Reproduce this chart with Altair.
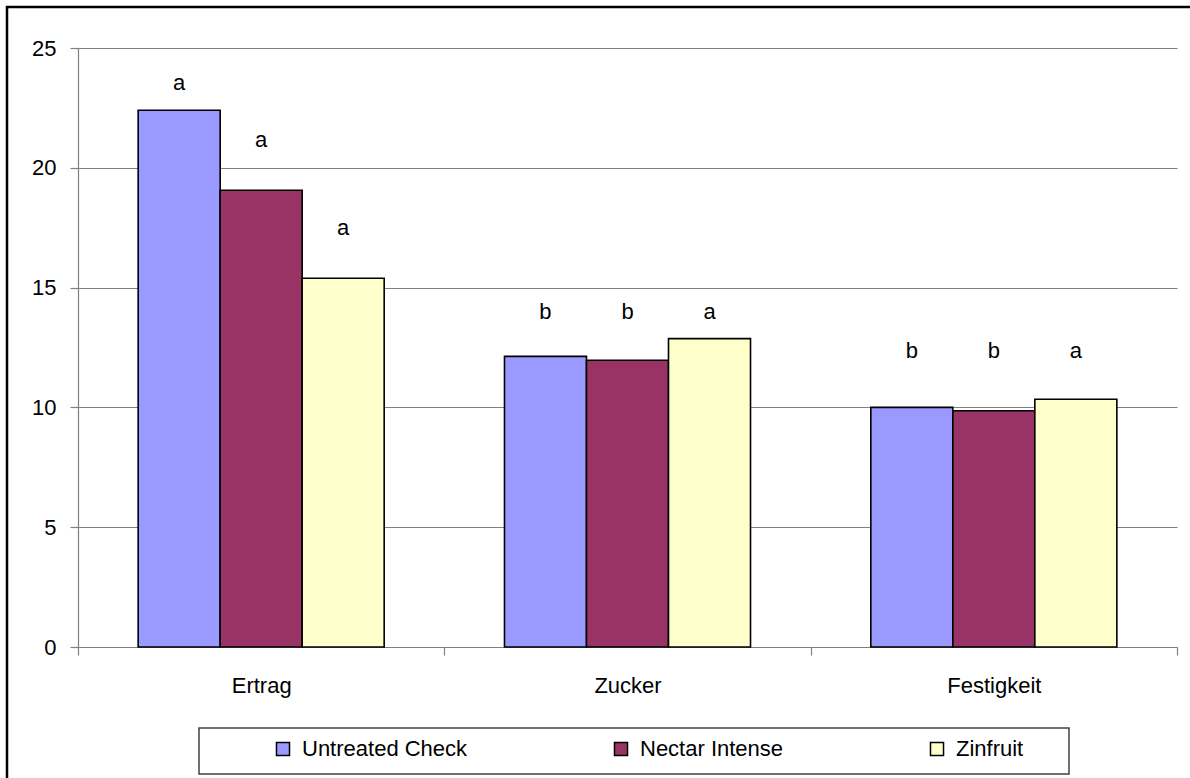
import altair as alt
import pandas as pd

# Measured quantities per treatment, one value per category
categories = ["Ertrag", "Zucker", "Festigkeit"]
treatments = ["Untreated Check", "Nectar Intense", "Zinfruit"]
colors = ["#9999FF", "#993366", "#FFFFCC"]

untreated = [22.4, 12.13, 10.0]
nectar = [19.06, 11.97, 9.86]
zinfruit = [15.39, 12.87, 10.34]

# Significance letters and the axis height at which each one is printed
letters_untreated = ["a", "b", "b"]
letters_nectar = ["a", "b", "b"]
letters_zinfruit = ["a", "a", "a"]
letter_y_untreated = [23.54, 13.99, 12.37]
letter_y_nectar = [21.16, 13.99, 12.37]
letter_y_zinfruit = [17.49, 13.99, 12.37]

y_ticks = [0, 5, 10, 15, 20, 25]

FONT = "Liberation Sans, Arial, sans-serif"
FS = 22
LINE = "#808080"

rows = []
for vals, lets, ly, t in [
    (untreated, letters_untreated, letter_y_untreated, treatments[0]),
    (nectar, letters_nectar, letter_y_nectar, treatments[1]),
    (zinfruit, letters_zinfruit, letter_y_zinfruit, treatments[2]),
]:
    for c, v, l, y in zip(categories, vals, lets, ly):
        rows.append({"category": c, "treatment": t, "value": v, "letter": l, "letter_y": y})
df = pd.DataFrame(rows)

x_enc = alt.X(
    "category:N",
    sort=categories,
    scale=alt.Scale(paddingInner=0, paddingOuter=0),
    axis=alt.Axis(
        title=None,
        labelAngle=0,
        labelFont=FONT,
        labelFontSize=FS,
        labelColor="black",
        labelPadding=20,
        domainColor=LINE,
        domainWidth=1.2,
        tickColor=LINE,
        tickWidth=1.2,
        tickSize=8,
        tickBand="extent",
        grid=False,
    ),
)
xoff_enc = alt.XOffset(
    "treatment:N",
    sort=treatments,
    scale=alt.Scale(paddingInner=0, paddingOuter=0.7335),
)
y_scale = alt.Scale(domain=[0, 25], nice=False)

bars = (
    alt.Chart(df)
    .mark_bar(stroke="black", strokeWidth=1.6)
    .encode(
        x=x_enc,
        xOffset=xoff_enc,
        y=alt.Y(
            "value:Q",
            scale=y_scale,
            axis=alt.Axis(
                title=None,
                values=y_ticks,
                labelFont=FONT,
                labelFontSize=FS,
                labelColor="black",
                labelPadding=14,
                domainColor=LINE,
                domainWidth=1.2,
                tickColor=LINE,
                tickWidth=1.2,
                tickSize=8,
                grid=True,
                gridColor=LINE,
                gridWidth=1.2,
            ),
        ),
        fill=alt.Fill(
            "treatment:N",
            sort=treatments,
            scale=alt.Scale(domain=treatments, range=colors),
            legend=alt.Legend(
                title=None,
                orient="none",
                direction="horizontal",
                legendX=194,
                legendY=690,
                symbolType="square",
                symbolSize=170,
                symbolStrokeColor="black",
                symbolStrokeWidth=1.5,
                symbolOpacity=1,
                labelFont=FONT,
                labelFontSize=FS,
                labelColor="black",
                labelLimit=0,
                labelOffset=8,
                columnPadding=142,
                padding=0,
            ),
        ),
    )
)

letters = (
    alt.Chart(df)
    .mark_text(font=FONT, fontSize=FS, color="black", baseline="middle", align="center")
    .encode(
        x=alt.X("category:N", sort=categories),
        xOffset=alt.XOffset("treatment:N", sort=treatments),
        y=alt.Y("letter_y:Q", scale=y_scale),
        text="letter:N",
    )
)

frame_df = pd.DataFrame({"k": [0]})

# Outer chart frame (runs off the right and bottom edges)
frame = (
    alt.Chart(frame_df)
    .mark_rect(fillOpacity=0, stroke="black", strokeWidth=2.5)
    .encode(x=alt.value(-71), x2=alt.value(1250), y=alt.value(-41), y2=alt.value(800))
)

# Box around the legend entries
legend_box = (
    alt.Chart(frame_df)
    .mark_rect(fillOpacity=0, stroke="#404040", strokeWidth=1.5)
    .encode(x=alt.value(121), x2=alt.value(991), y=alt.value(680), y2=alt.value(726))
)

chart = (
    alt.layer(bars, letters, frame, legend_box)
    .properties(
        width=1099,
        height=599,
        autosize=alt.AutoSizeParams(type="none"),
        padding={"left": 78, "top": 48, "right": 13, "bottom": 131},
        background="white",
    )
    .configure_view(stroke=None)
)

chart.save("out.html", embed_options={"renderer": "svg", "actions": False})
